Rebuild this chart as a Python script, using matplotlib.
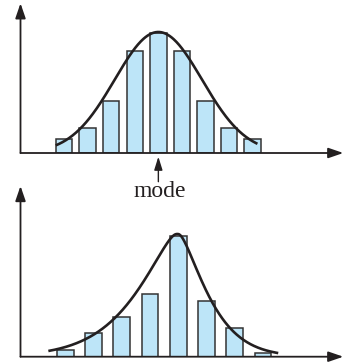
import numpy as np
import matplotlib
matplotlib.use("agg")
import matplotlib.pyplot as plt

# histogram values (bar heights, arbitrary units)
sym_bins = [0, 1, 2, 3, 4, 5, 6, 7, 8]
sym_counts = [14, 25, 52, 102, 120, 102, 52, 25, 14]
skew_bins = [0, 1, 2, 3, 4, 5, 6, 7]
skew_counts = [6.5, 24, 40, 63, 120.5, 56, 29, 3.7]

# smooth curves drawn over the histograms
sym_peak, sym_mode, sym_sd = 121, 4.0, 1.85
skew_peak, skew_mode = 122.7, 3.97
skew_left, skew_right, skew_pow, skew_round = 1.88, 1.31, 1.3, 0.12

INK = "#231f20"
FILL = "#bde5f8"
EDGE = "#333333"
W, H = 348, 364


def make_axes(fig, x0, x1, ybase, ytop, c0, pitch, hmax):
    # place axes in pixel terms; origin of the data at the axis corner
    ax = fig.add_axes([x0 / W, (H - ybase) / H, (x1 - x0) / W, (ybase - ytop) / H])
    ax.set_xlim((x0 - c0) / pitch, (x1 - c0) / pitch)
    ax.set_ylim(0, hmax)
    ax.set_axis_off()
    style = "-|>,head_length=0.9,head_width=0.31"
    for end in [(1, 0), (0, 1)]:
        ax.annotate("", xy=end, xytext=(0, 0), xycoords="axes fraction",
                    arrowprops=dict(arrowstyle=style, color=INK, lw=1.3,
                                    shrinkA=0, shrinkB=0, mutation_scale=10),
                    zorder=3)
    return ax


fig = plt.figure(figsize=(W / 100, H / 100), dpi=100)

# top: symmetric distribution
ax1 = make_axes(fig, 20.5, 343.3, 153, 3.3, 64, 23.59, 149.7)
ax1.bar(sym_bins, sym_counts, width=0.70, color=FILL, edgecolor=EDGE,
        linewidth=1.1, zorder=2)
xs = np.linspace(-0.35, 8.2, 300)
ax1.plot(xs, sym_peak * np.exp(-(xs - sym_mode) ** 2 / (2 * sym_sd ** 2)),
         color=INK, lw=1.9, zorder=4, solid_capstyle="butt")
ax1.annotate("", xy=(sym_mode, -3.7), xytext=(sym_mode, -28.7),
             xycoords="data", annotation_clip=False,
             arrowprops=dict(arrowstyle="-|>,head_length=0.8,head_width=0.25",
                             color=INK, lw=1.0, shrinkA=0, shrinkB=0,
                             mutation_scale=10))
ax1.text(sym_mode + 0.05, -43.7, "mode", ha="center", va="baseline",
         fontsize=17, family="Liberation Serif", color=INK, clip_on=False)

# bottom: skewed distribution
ax2 = make_axes(fig, 20.5, 343.3, 356.7, 186, 65.3, 28.24, 170.7)
ax2.bar(skew_bins, skew_counts, width=0.59, color=FILL, edgecolor=EDGE,
        linewidth=1.1, zorder=2)
xs = np.linspace(-0.6, 7.54, 400)
d = xs - skew_mode
r = np.sqrt(d ** 2 + skew_round ** 2) - skew_round
scale = np.where(d < 0, skew_left, skew_right)
ax2.plot(xs, skew_peak * np.exp(-(r / scale) ** skew_pow),
         color=INK, lw=1.9, zorder=4, solid_capstyle="butt")

fig.savefig("out.png", dpi=100, facecolor="white")
